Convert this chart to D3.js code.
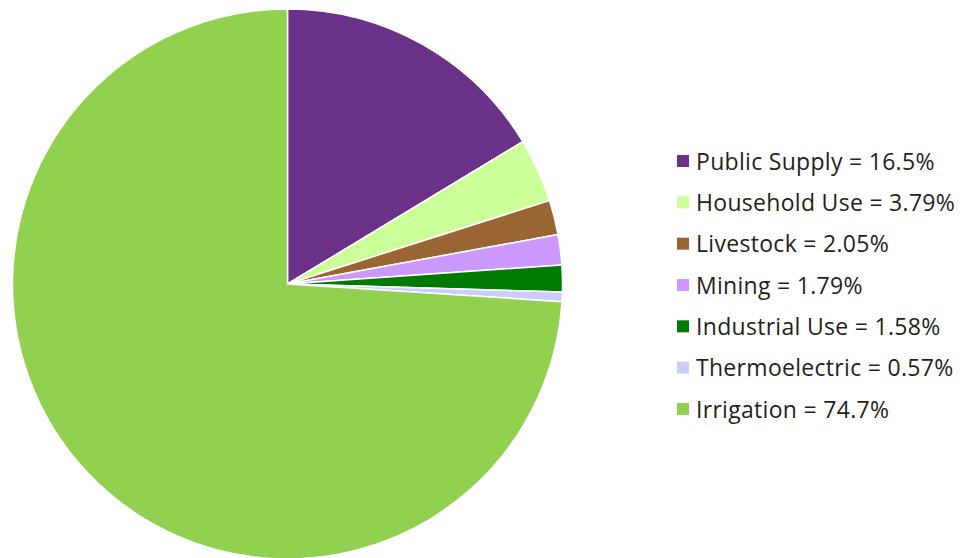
<!DOCTYPE html>
<html>
<head>
<meta charset="utf-8">
<style>
  body { margin: 0; background: #fff; }
  .legend text { font-family: "Open Sans", sans-serif; font-size: 23px; letter-spacing: 0.3px; fill: #231f20; }
</style>
</head>
<body>
<div id="viz"></div>
<script src="https://d3js.org/d3.v7.min.js"></script>
<script>
  // water use shares (percent)
  var categories = ["Public Supply", "Household Use", "Livestock", "Mining", "Industrial Use", "Thermoelectric", "Irrigation"];
  var values = [16.5, 3.79, 2.05, 1.79, 1.58, 0.57, 74.7];
  var labels = ["16.5%", "3.79%", "2.05%", "1.79%", "1.58%", "0.57%", "74.7%"];
  var colors = ["#6b3087", "#ccff99", "#996633", "#cc99ff", "#007a00", "#ccccff", "#92d050"];

  var width = 972, height = 558;
  var svg = d3.select("#viz").append("svg")
    .attr("width", width)
    .attr("height", height);

  var data = categories.map(function(c, i) {
    return { name: c, value: values[i], label: labels[i] };
  });

  var color = d3.scaleOrdinal().domain(categories).range(colors);

  var pie = d3.pie().sort(null).value(function(d) { return d.value; });
  var arc = d3.arc().innerRadius(0).outerRadius(275);

  var g = svg.append("g").attr("transform", "translate(287.5,284)");
  g.selectAll("path")
    .data(pie(data))
    .enter().append("path")
    .attr("d", arc)
    .attr("fill", function(d) { return color(d.data.name); })
    .attr("stroke", "#fff")
    .attr("stroke-width", 1.5)
    .attr("stroke-linejoin", "round");

  // legend
  var y = d3.scalePoint().domain(categories).range([161, 409]);
  var legend = svg.append("g").attr("class", "legend");
  var row = legend.selectAll("g")
    .data(data)
    .enter().append("g")
    .attr("transform", function(d) { return "translate(677," + y(d.name) + ")"; });
  row.append("rect")
    .attr("x", 0).attr("y", -6)
    .attr("width", 12).attr("height", 12)
    .attr("fill", function(d) { return color(d.name); });
  row.append("text")
    .attr("x", 19).attr("y", 8.5)
    .text(function(d) { return d.name + " = " + d.label; });
</script>
</body>
</html>
